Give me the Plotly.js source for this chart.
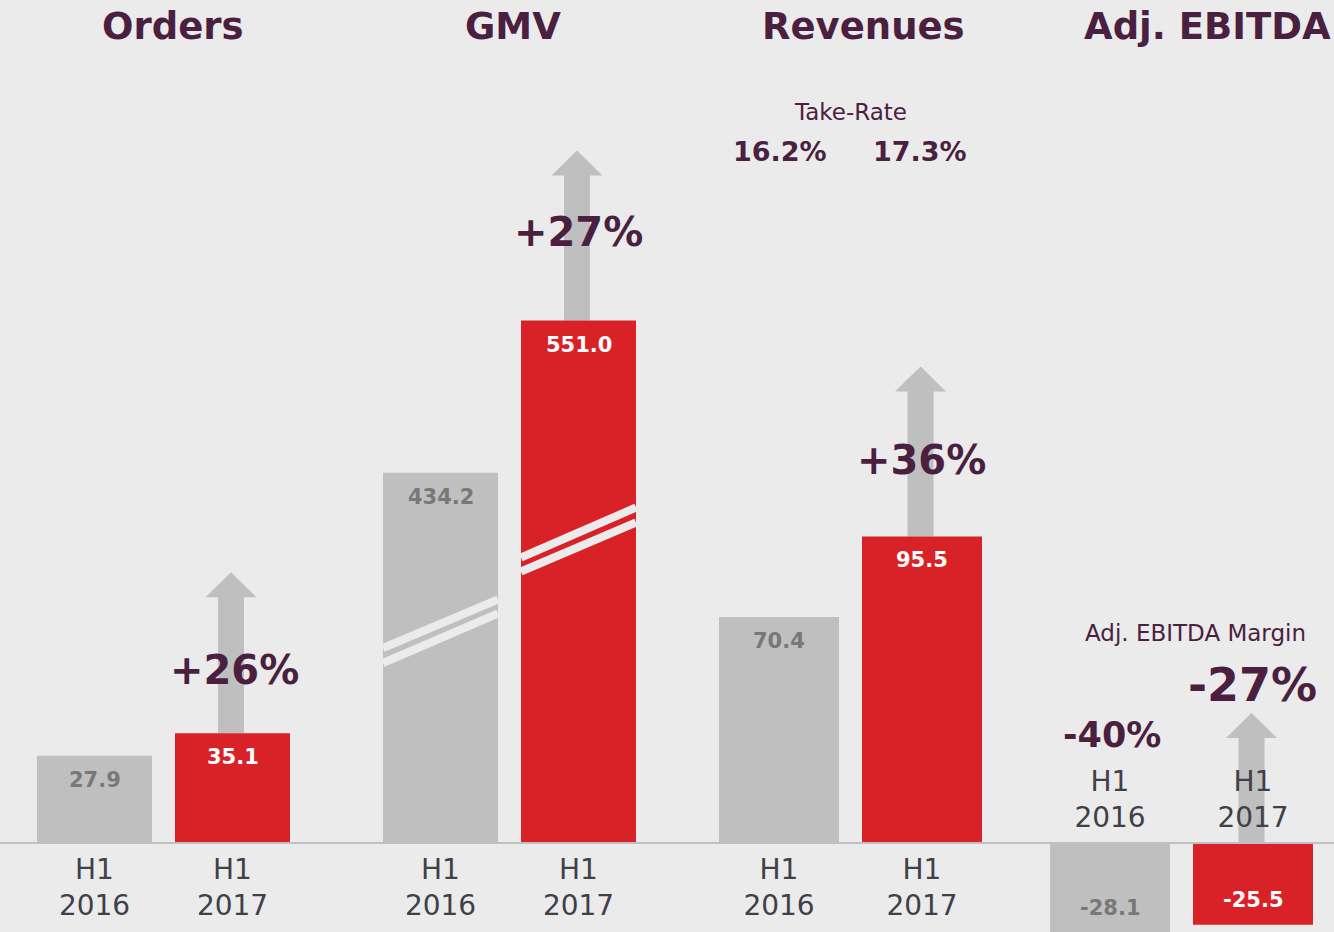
<!DOCTYPE html>
<html><head><meta charset="utf-8">
<script src="https://cdn.plot.ly/plotly-3.0.1.min.js"></script>
<style>html,body{margin:0;padding:0;background:#ebebeb;overflow:hidden;} #chart{width:1334px;height:932px;}</style>
</head><body><div id="chart"></div>
<script>
// ---- data ----
const periods = ['H1<br>2016', 'H1<br>2017'];
const panelTitles = ['Orders', 'GMV', 'Revenues', 'Adj. EBITDA'];
const orders = [27.9, 35.1];
const gmv = [434.2, 551.0];
const revenues = [70.4, 95.5];
const ebitda = [-28.1, -25.5];

// ---- style / layout constants ----
const W = 1334, H = 932, BASE_PX = 843;
const BG = '#ebebeb', GRAY = '#bfbfbf', RED = '#d92128', PURPLE = '#4a1f3f';
const LABEL = '#404048', VAL_GRAY = '#787878';
const FONT = 'DejaVu Sans';
const series = [orders, gmv, revenues, ebitda];
const panelMid = [163.5, 509.5, 850.5, 1181.5];
const barSpacing = [138, 138, 143, 143];
const barWidth = [115, 115, 120, 120];
const pxPerUnit = [3.13, 1.303, 3.21, 3.21];
const yBase = [0, 150, 0, 0];          // GMV axis is broken (truncated)
const titleX = [172.5, 513, 864, 1207];
const arrowLen = [161, 170, 170, 130];
const growthShift = [63, 89, 76];
const yp = px => 1 - px / H;

const ax = i => (i === 0 ? '' : String(i + 1));
const traces = [];
const layout = {
  width: W, height: H,
  margin: {l: 0, r: 0, t: 0, b: 0},
  paper_bgcolor: BG, plot_bgcolor: BG,
  showlegend: false,
  font: {family: FONT},
  shapes: [], annotations: []
};

series.forEach((vals, i) => {
  const xa = 'x' + ax(i), ya = 'y' + ax(i);
  traces.push({
    type: 'bar', x: periods, y: vals.map(v => v - yBase[i]), base: yBase[i],
    width: barWidth[i] / barSpacing[i],
    marker: {color: [GRAY, RED], line: {width: 0}},
    xaxis: xa, yaxis: ya, hoverinfo: 'skip'
  });
  const s = pxPerUnit[i];
  layout['xaxis' + ax(i)] = {
    type: 'category', domain: [(panelMid[i] - barSpacing[i]) / W, (panelMid[i] + barSpacing[i]) / W],
    range: [-0.5, 1.5], anchor: 'free', position: (H - BASE_PX) / H,
    side: i === 3 ? 'top' : 'bottom',
    showgrid: false, zeroline: false, showline: false, ticks: '',
    ticklabelstandoff: i === 3 ? 10 : 7,
    tickfont: {family: FONT, size: 28, color: LABEL}, fixedrange: true
  };
  layout['yaxis' + ax(i)] = {
    domain: [0, 1], anchor: xa, visible: false, fixedrange: true,
    range: [yBase[i] - (H - BASE_PX) / s, yBase[i] + BASE_PX / s]
  };
  // panel title
  layout.annotations.push({
    xref: 'paper', yref: 'paper', x: titleX[i] / W, y: yp(26), xanchor: 'center', yanchor: 'middle',
    text: panelTitles[i], showarrow: false,
    font: {family: FONT, size: 37, weight: 'bold', color: PURPLE}
  });
  // value labels (inset 24px from the bar end)
  vals.forEach((v, j) => {
    layout.annotations.push({
      xref: xa, yref: ya, x: j, y: v + (v >= 0 ? -24 : 25) / s,
      xanchor: 'center', yanchor: 'middle', showarrow: false,
      text: v.toFixed(1),
      font: {family: FONT, size: 21, weight: 'bold', color: j === 0 ? VAL_GRAY : '#ffffff'}
    });
  });
  // growth arrow
  const L = arrowLen[i], hb = L - 25;
  layout.shapes.push({
    type: 'path', xref: xa, yref: ya, xsizemode: 'pixel', ysizemode: 'pixel',
    xanchor: 1, yanchor: Math.max(0, vals[1]),
    path: `M -14.5,0 L -14.5,${hb} L -27,${hb} L -1.5,${L} L 24,${hb} L 11.5,${hb} L 11.5,0 Z`,
    fillcolor: GRAY, line: {width: 0}, layer: 'below'
  });
  if (i < 3) {
    const g = Math.round((vals[1] / vals[0] - 1) * 100);
    layout.annotations.push({
      xref: xa, yref: ya, x: 1, y: vals[1], yshift: growthShift[i], xshift: i === 0 ? 2 : 0,
      xanchor: 'center', yanchor: 'middle', showarrow: false,
      text: '+' + g + '%',
      font: {family: FONT, size: 40, weight: 'bold', color: PURPLE}
    });
  }
});

// baseline
layout.shapes.push({type: 'line', xref: 'paper', yref: 'y', x0: 0, x1: 1, y0: 0, y1: 0,
  line: {color: '#c0c0c0', width: 2}, layer: 'above'});

// GMV axis-break marks
const breaks = [[0, 195, 243.5], [0, 180, 229.5], [1, 285.5, 335.5], [1, 271.5, 320.5]];
breaks.forEach(b => layout.shapes.push({
  type: 'line', xref: 'x2', yref: 'y2', xsizemode: 'pixel', ysizemode: 'pixel',
  xanchor: b[0], yanchor: yBase[1], x0: -57.5, x1: 57.5, y0: b[1], y1: b[2],
  line: {color: BG, width: 8}, layer: 'above'
}));

// Take-rate (Revenues / GMV)
layout.annotations.push({xref: 'x3', yref: 'paper', x: 0.5, y: yp(112), xanchor: 'center', yanchor: 'middle',
  text: 'Take-Rate', showarrow: false, font: {family: FONT, size: 23, color: PURPLE}});
revenues.forEach((r, j) => layout.annotations.push({
  xref: 'x3', yref: 'paper', x: j, y: yp(152), xshift: j === 0 ? 1 : -2, xanchor: 'center', yanchor: 'middle',
  text: (r / gmv[j] * 100).toFixed(1) + '%', showarrow: false,
  font: {family: FONT, size: 27, weight: 'bold', color: PURPLE}
}));

// Adj. EBITDA margin (EBITDA / Revenues)
layout.annotations.push({xref: 'x4', yref: 'paper', x: 0.5, y: yp(633), xshift: 13.5, xanchor: 'center', yanchor: 'middle',
  text: 'Adj. EBITDA Margin', showarrow: false, font: {family: FONT, size: 23, color: PURPLE}});
const marginY = [735, 685], marginSize = [35, 46];
ebitda.forEach((e, j) => layout.annotations.push({
  xref: 'x4', yref: 'paper', x: j, y: yp(marginY[j]), xshift: j === 0 ? 2 : -1, xanchor: 'center', yanchor: 'middle',
  text: Math.round(e / revenues[j] * 100) + '%', showarrow: false,
  font: {family: FONT, size: marginSize[j], weight: 'bold', color: PURPLE}
}));

Plotly.newPlot('chart', traces, layout, {displayModeBar: false, staticPlot: true});
</script>
</body></html>
